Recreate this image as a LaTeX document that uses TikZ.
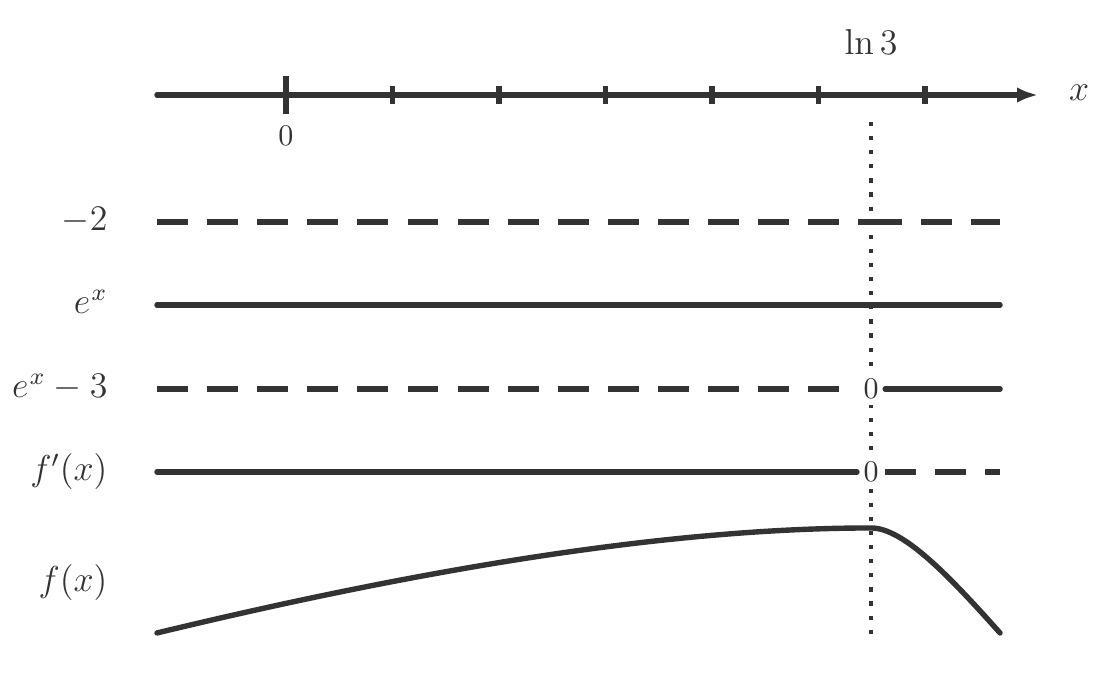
\documentclass[tikz,border=0pt]{standalone}
\usetikzlibrary{arrows.meta}
\definecolor{ink}{RGB}{51,51,51}
\tikzset{
    sign/.style={ink, line width=1.8pt},
    minusline/.style={sign, dash pattern=on 10.3pt off 6.4pt},
    plusline/.style={sign, line cap=round},
    rowlabel/.style={anchor=base east, inner sep=0pt, font=\large, text=ink},
    zero/.style={fill=white, text=ink, inner sep=2pt},
}
\begin{document}
\begin{tikzpicture}
    \useasboundingbox (0,0) rectangle (12.933,8.048);
    \draw [sign, line cap=round, -{Latex[length=7pt,width=5.2pt]}] (1.839,6.935) -- (12.16,6.935);% Draw x axis
    \node [font=\large, text=ink] (xlab) at (12.64,6.959) {$x$};
    \draw [sign] (3.35,6.707) -- (3.35,7.163);
    \foreach \k in {1,...,6}{% small ticks every 0.2
      \draw [sign] ({3.35+1.2477*\k},6.83) -- ++(0,0.21);}
    \node [text=ink] (zerotick) at (3.35,6.455) {$0$};
    \node [font=\large, text=ink] (lnthree) at (10.204,7.556) {$\ln 3$};
    \draw [ink, line width=1.4pt, dash pattern=on 1.4pt off 3.3pt]
        (10.204,6.619) -- (10.204,0.586);% Line through ln 3
    \node [rowlabel] (lminus) at (1.265,5.347) {$-2$};
    \coordinate (cutminus) at (10.204,5.447);
    \draw [minusline] (1.839,5.447) -- (cutminus);
    \draw [minusline] (cutminus) -- (11.715,5.447);
    \node [rowlabel] (lexp) at (1.265,4.375) {$e^{\mkern1mu x}$};
    \draw [plusline] (1.839,4.475) -- (11.715,4.475);
    \node [rowlabel] (lexpm) at (1.265,3.391) {$e^{\mkern1mu x}-3$};
    \node [zero] (zexpm) at (10.204,3.491) {$0$};
    \draw [minusline] (1.839,3.491) -- (zexpm);
    \draw [plusline] (zexpm) -- (11.715,3.491);
    \node [rowlabel] (lderiv) at (1.265,2.419) {$f'(x)$};
    \node [zero] (zderiv) at (10.204,2.519) {$0$};
    \draw [plusline] (1.839,2.519) -- (zderiv);
    \draw [minusline] (zderiv) -- (11.715,2.519);
    \node [rowlabel] (lfunc) at (1.265,1.113) {$f(x)$};
    \draw [plusline] (1.839,0.633) .. controls (5.235,1.453) and (8.021,1.863) .. (10.204,1.863)
        .. controls (10.582,1.863) and (11.111,1.309) .. (11.715,0.633);
\end{tikzpicture}
\end{document}
